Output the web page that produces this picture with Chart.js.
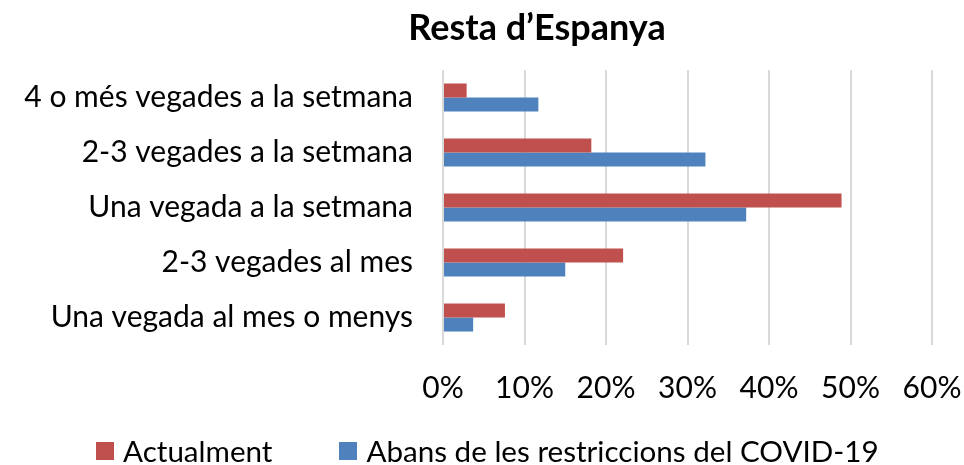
<!DOCTYPE html>
<html>
<head>
<meta charset="utf-8">
<script src="https://cdn.jsdelivr.net/npm/chart.js@4/dist/chart.umd.min.js"></script>
<style>
  html, body { margin: 0; padding: 0; background: #fff; }
  #wrap { position: relative; width: 964px; height: 465px; overflow: hidden; }
  #c { position: absolute; left: 0; top: 0; }
  #title { position: absolute; left: 537px; top: 4px; transform: translateX(-50%); white-space: nowrap;
           font-family: Lato, "Open Sans", sans-serif; font-weight: bold; font-size: 36px; line-height: 44px; color: #000; }
  #legend { position: absolute; left: 96px; top: 431px; display: flex; height: 40px; align-items: center;
            font-family: Lato, "Open Sans", sans-serif; font-size: 29.6px; line-height: 36px; color: #000; white-space: nowrap; }
  .item { display: flex; align-items: center; margin-right: 67px; }
  .box { width: 18px; height: 18px; margin-right: 9px; }
</style>
</head>
<body>
<div id="wrap">
  <canvas id="c" width="964" height="465"></canvas>
  <div id="title"></div>
  <div id="legend"></div>
</div>
<script>
const chartTitle = "Resta d’Espanya";
const categories = [
  "4 o més vegades a la setmana",
  "2-3 vegades a la setmana",
  "Una vegada a la setmana",
  "2-3 vegades al mes",
  "Una vegada al mes o menys"
];
const seriesNames = ["Actualment", "Abans de les restriccions del COVID-19"];
const actualment = [2.9, 18.2, 48.9, 22.1, 7.6];
const abans = [11.7, 32.2, 37.2, 15.0, 3.7];
const xTicks = [0, 10, 20, 30, 40, 50, 60];
const colors = ["#C0504D", "#4F81BD"];

document.getElementById('title').textContent = chartTitle;

const FONT = 'Lato, "Open Sans", sans-serif';

const chart = new Chart(document.getElementById('c'), {
  type: 'bar',
  data: {
    labels: categories,
    datasets: [
      { label: seriesNames[0], data: actualment, backgroundColor: colors[0], barPercentage: 1, categoryPercentage: 0.51 },
      { label: seriesNames[1], data: abans, backgroundColor: colors[1], barPercentage: 1, categoryPercentage: 0.51 }
    ]
  },
  options: {
    indexAxis: 'y',
    responsive: false,
    animation: false,
    layout: { padding: { top: 70, right: 32, bottom: 50, left: 0 } },
    plugins: { legend: { display: false }, title: { display: false }, tooltip: { enabled: false } },
    scales: {
      x: {
        min: 0, max: 60,
        afterBuildTicks: (s) => { s.ticks = xTicks.map(v => ({ value: v })); },
        afterFit: (s) => { s.height = 70; s.paddingLeft = 0; s.paddingRight = 0; },
        grid: { color: '#D9D9D9', lineWidth: 2, drawTicks: false },
        border: { display: false },
        ticks: { color: '#000', font: { family: FONT, size: 30 }, padding: 25, callback: (v) => v + '%' }
      },
      y: {
        afterFit: (s) => { s.width = 443; s.paddingTop = 0; s.paddingBottom = 0; },
        grid: { display: false, drawTicks: false },
        border: { display: false },
        ticks: { color: '#000', font: { family: FONT, size: 30 }, padding: 30 }
      }
    }
  }
});

const leg = document.getElementById('legend');
chart.data.datasets.forEach((ds) => {
  const it = document.createElement('div');
  it.className = 'item';
  const b = document.createElement('span');
  b.className = 'box';
  b.style.background = ds.backgroundColor;
  const t = document.createElement('span');
  t.textContent = ds.label;
  it.appendChild(b); it.appendChild(t);
  leg.appendChild(it);
});
</script>
</body>
</html>
